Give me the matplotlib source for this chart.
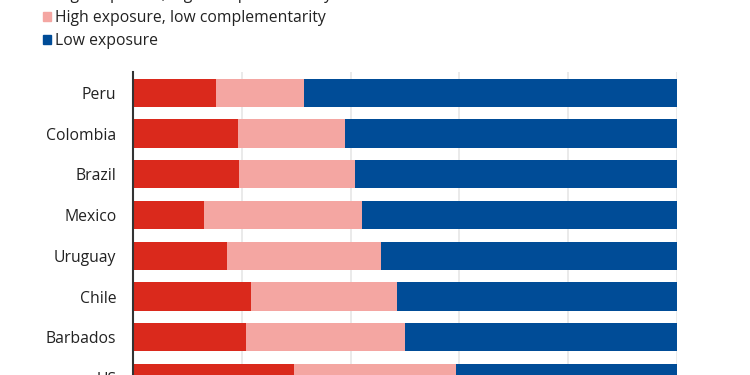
import numpy as np
import matplotlib.pyplot as plt
from matplotlib.patches import Patch

plt.rcParams['font.family'] = ['Open Sans', 'DejaVu Sans']

countries = ['Peru', 'Colombia', 'Brazil', 'Mexico', 'Uruguay', 'Chile', 'Barbados', 'US']
high_high = [15.3, 19.3, 19.5, 13.1, 17.3, 21.7, 20.8, 29.6]
high_low = [16.1, 19.7, 21.3, 29.0, 28.3, 26.8, 29.2, 29.8]
low = [100 - a - b for a, b in zip(high_high, high_low)]

labels = ['High exposure, high complementarity',
          'High exposure, low complementarity',
          'Low exposure']
colors = ['#DA291C', '#F4A6A2', '#004C97']

fig = plt.figure(figsize=(7.5, 3.75), dpi=100)
# axes runs past the bottom of the figure, like the cropped original
ax = fig.add_axes([133/750, -0.0613, 544/750, 0.8693])

y = np.arange(len(countries))
left = np.zeros(len(countries))
for vals, c in zip([high_high, high_low, low], colors):
    ax.barh(y, vals, left=left, height=0.69, color=c, zorder=2)
    left += np.array(vals)

ax.set_ylim(len(countries) - 0.51, -0.51)
ax.set_xlim(0, 100)
ax.set_xticks([0, 20, 40, 60, 80, 100])
ax.xaxis.grid(True, color='#e6e6e6', lw=1.2, zorder=0)
ax.set_yticks(y)
ax.set_yticklabels(countries, fontsize=11.3, color='#222222')
ax.tick_params(axis='y', length=0, pad=12)
ax.tick_params(axis='x', length=0, labelbottom=False)
for s in ['top', 'right', 'bottom']:
    ax.spines[s].set_visible(False)
ax.spines['left'].set_linewidth(1.5)
ax.spines['left'].set_color('#333333')

handles = [Patch(color=c) for c in colors]
fig.legend(handles, labels, loc='upper left', bbox_to_anchor=(0.0385, 1.0733),
           frameon=False, fontsize=11.3, handlelength=0.5, handleheight=0.55,
           handletextpad=0.25, labelspacing=0.46, labelcolor='#222222')

fig.savefig('out.png', dpi=100)
